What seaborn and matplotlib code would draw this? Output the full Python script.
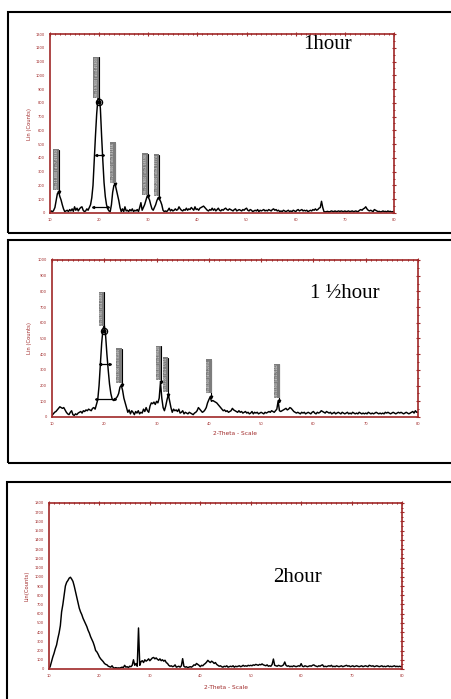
import numpy as np
import pandas as pd
import matplotlib
matplotlib.use("Agg")
import matplotlib.pyplot as plt
import matplotlib.transforms as mtransforms
from matplotlib.patches import Rectangle
from matplotlib.ticker import MultipleLocator
import seaborn as sns

sns.set_style("white")
plt.rcParams['font.family'] = ['DejaVu Sans']

# ---------------- data (2-theta scan, 0.25 deg step from 10 to 80) ----------------
cnt_1h = [
    10, 15, 8, 20, 40, 90, 140, 155, 120, 95, 60, 30, 10, 15, 20, 10, 25, 15, 30, 12,
    45, 20, 35, 15, 30, 40, 45, 20, 10, 15, 30, 20, 40, 60, 110, 200, 380, 560, 720, 830,
    855, 760, 560, 380, 220, 120, 60, 30, 15, 10, 60, 150, 200, 210, 170, 130, 90, 40, 10, 30,
    10, 45, 15, 20, 10, 25, 15, 30, 10, 20, 15, 25, 10, 40, 75, 20, 40, 60, 90, 120,
    115, 95, 60, 30, 20, 40, 60, 90, 110, 100, 85, 60, 20, 10, 15, 10, 20, 35, 15, 25,
    15, 20, 30, 20, 25, 45, 30, 20, 15, 25, 20, 35, 20, 30, 25, 40, 30, 20, 45, 25,
    30, 20, 35, 40, 45, 50, 40, 30, 20, 15, 25, 20, 35, 20, 30, 15, 25, 35, 20, 15,
    25, 20, 30, 35, 25, 20, 30, 25, 20, 15, 25, 30, 15, 20, 25, 20, 15, 25, 20, 30,
    35, 20, 15, 25, 20, 10, 15, 20, 15, 25, 10, 20, 15, 20, 25, 15, 20, 15, 25, 20,
    15, 25, 30, 20, 25, 15, 20, 10, 15, 10, 20, 15, 10, 15, 20, 10, 15, 10, 20, 15,
    10, 20, 25, 15, 20, 25, 15, 20, 15, 20, 10, 15, 20, 15, 25, 20, 30, 20, 25, 35,
    40, 85, 40, 10, 8, 10, 12, 8, 10, 15, 12, 10, 15, 10, 12, 15, 10, 15, 12, 10,
    15, 10, 12, 15, 10, 12, 15, 10, 12, 15, 10, 12, 20, 25, 20, 30, 35, 45, 30, 20,
    15, 20, 15, 10, 25, 20, 15, 10, 12, 8, 10, 15, 10, 12, 8, 15, 10, 12, 8, 10,
    10,
]
cnt_15h = [
    10, 20, 30, 35, 45, 55, 65, 60, 55, 60, 45, 30, 20, 15, 30, 40, 15, 10, 20, 15,
    25, 30, 35, 25, 40, 35, 45, 40, 50, 45, 40, 55, 60, 50, 80, 110, 200, 330, 470, 560,
    585, 520, 400, 300, 210, 150, 115, 105, 110, 120, 130, 150, 190, 202, 170, 120, 90, 60, 30, 45,
    20, 40, 30, 15, 35, 25, 40, 20, 30, 25, 50, 35, 60, 40, 30, 70, 90, 85, 95, 80,
    100, 90, 120, 223, 120, 60, 40, 70, 110, 143, 100, 60, 30, 50, 40, 45, 35, 50, 25, 30,
    40, 20, 30, 25, 20, 30, 25, 20, 15, 25, 30, 40, 60, 50, 40, 30, 35, 45, 60, 90,
    110, 128, 100, 105, 100, 95, 90, 80, 70, 60, 50, 40, 45, 35, 40, 30, 35, 40, 55, 45,
    40, 35, 30, 40, 30, 35, 25, 30, 35, 25, 30, 20, 25, 35, 20, 30, 25, 30, 20, 25,
    30, 25, 20, 30, 25, 30, 35, 30, 40, 35, 30, 40, 50, 102, 40, 35, 40, 45, 50, 55,
    45, 50, 60, 55, 45, 35, 30, 25, 30, 25, 20, 30, 25, 30, 20, 25, 30, 25, 20, 30,
    35, 25, 20, 30, 25, 30, 40, 35, 30, 25, 35, 30, 25, 30, 20, 25, 30, 20, 25, 30,
    25, 20, 30, 25, 20, 25, 30, 20, 25, 20, 30, 25, 20, 25, 20, 30, 25, 20, 25, 20,
    25, 20, 30, 25, 20, 25, 20, 25, 30, 25, 20, 25, 20, 25, 20, 30, 25, 30, 25, 20,
    25, 30, 25, 20, 25, 30, 25, 30, 25, 20, 25, 30, 25, 20, 25, 30, 35, 25, 40, 30,
    30,
]
cnt_2h = [
    0, 30, 80, 130, 170, 220, 260, 330, 390, 470, 620, 700, 800, 900, 940, 960, 985, 995, 975, 950,
    900, 840, 780, 720, 660, 620, 590, 550, 520, 490, 460, 420, 390, 350, 320, 290, 250, 200, 185, 160,
    130, 110, 95, 80, 60, 50, 45, 30, 25, 20, 35, 15, 10, 15, 10, 12, 10, 15, 20, 15,
    40, 20, 25, 15, 30, 25, 40, 100, 40, 60, 30, 445, 40, 80, 90, 70, 100, 85, 95, 110,
    90, 105, 120, 125, 110, 120, 105, 95, 110, 90, 100, 85, 95, 70, 60, 40, 30, 35, 25, 30,
    45, 20, 25, 30, 20, 35, 112, 30, 20, 25, 15, 20, 25, 20, 30, 45, 40, 60, 50, 40,
    25, 40, 35, 50, 60, 75, 94, 80, 70, 85, 75, 60, 70, 50, 40, 30, 35, 25, 20, 30,
    25, 35, 20, 25, 30, 25, 35, 20, 30, 25, 30, 35, 25, 30, 40, 30, 35, 30, 40, 35,
    40, 35, 45, 40, 50, 45, 40, 50, 45, 55, 45, 40, 35, 45, 30, 35, 30, 50, 108, 40,
    35, 30, 40, 35, 30, 35, 45, 76, 40, 30, 35, 25, 30, 25, 35, 30, 25, 30, 35, 30,
    58, 30, 25, 35, 30, 25, 30, 35, 30, 40, 45, 35, 30, 25, 35, 30, 40, 45, 25, 30,
    25, 30, 35, 30, 40, 25, 30, 25, 35, 30, 25, 30, 35, 25, 30, 35, 40, 30, 35, 25,
    30, 35, 25, 30, 35, 30, 25, 30, 35, 25, 30, 35, 30, 25, 40, 35, 30, 35, 25, 30,
    35, 30, 25, 30, 35, 25, 30, 25, 30, 35, 25, 30, 25, 30, 35, 25, 30, 25, 30, 25,
    30,
]

titles = ["1hour", "1 \u00bdhour", "2hour"]
ymax = [1300, 1000, 1800]
ylabels = ["Lin (Counts)", "Lin (Counts)", "Lin(Counts)"]
xlabels = [None, "2-Theta - Scale", "2-Theta - Scale"]
x_ticks = [10, 20, 30, 40, 50, 60, 70, 80]

# peak annotations (position, marker height, label top, label text)
pk_pos = [[11.8, 19.9, 23.3, 29.9, 32.2],
          [19.95, 23.3, 30.85, 32.2, 40.5, 53.5],
          []]
pk_hgt = [[155, 806, 210, 120, 110],
          [549, 202, 223, 143, 128, 102],
          []]
pk_top = [[460, 1130, 510, 430, 420],
          [794, 432, 451, 377, 362, 336],
          []]
pk_txt = [["2\u03b8=11.800 | d=7.49380", "2\u03b8=19.900 | d=4.45803",
           "2\u03b8=23.300 | d=3.81466", "2\u03b8=29.900 | d=2.98590",
           "2\u03b8=32.200 | d=2.77774"],
          ["2\u03b8=19.950 | d=4.44691", "2\u03b8=23.300 | d=3.81466",
           "2\u03b8=30.850 | d=2.89618", "2\u03b8=32.200 | d=2.77774",
           "2\u03b8=40.500 | d=2.22551", "2\u03b8=53.500 | d=1.71142"],
          []]
# FWHM construction of the main peak: (x_left, x_right, y)
fwhm_half = [(19.3, 20.8, 420), (19.2, 21.0, 336), None]
fwhm_base = [(18.7, 21.9, 40), (18.5, 22.1, 115), None]

# ---------------- layout ----------------
W, H = 452, 699
fig = plt.figure(figsize=(W / 100, H / 100), dpi=100)
fig.patch.set_facecolor("white")

ax_px = [(50, 34, 394, 213), (52, 260, 418, 417), (49, 503, 402, 669)]
box_px = [(8, 12, 233), (8, 240, 463), (7, 482, 710)]
title_px = [(303, 49), (310, 298), (273, 582)]
ylab_x = [-0.052, -0.054, -0.054]
xlab_y = [None, -0.089, -0.096]

RED = "#a02828"

for (bx, by0, by1) in box_px:
    fig.add_artist(Rectangle((bx / W, 1 - by1 / H), 1.2, (by1 - by0) / H,
                             transform=fig.transFigure, fill=False,
                             edgecolor="black", linewidth=1.5))

series = [cnt_1h, cnt_15h, cnt_2h]
for i in range(3):
    l, t, r, b = ax_px[i]
    ax = fig.add_axes([l / W, 1 - b / H, (r - l) / W, (b - t) / H])
    y = series[i]
    x = 10 + 0.25 * np.arange(len(y))
    df = pd.DataFrame({"two_theta": x, "counts": y})
    sns.lineplot(data=df, x="two_theta", y="counts", ax=ax, color="black",
                 linewidth=1.05, estimator=None, sort=False)
    ax.set_xlim(10, 80)
    ax.set_ylim(0, ymax[i])
    ax.set_xticks(x_ticks)
    ax.set_xticklabels([str(v) for v in x_ticks])
    ax.xaxis.set_minor_locator(MultipleLocator(1))
    ax.yaxis.set_major_locator(MultipleLocator(100))
    ax.yaxis.set_minor_locator(MultipleLocator(50))
    for sp in ax.spines.values():
        sp.set_color(RED)
        sp.set_linewidth(1.2)
        sp.set_visible(True)
    ax.tick_params(axis="both", which="major", direction="inout", length=3.5,
                   width=0.8, color=RED, labelcolor=RED, labelsize=2.6, pad=2,
                   top=True, right=True)
    ax.tick_params(axis="both", which="minor", direction="inout", length=2,
                   width=0.7, color=RED, top=True, right=True)
    ax.set_ylabel(ylabels[i], color=RED, fontsize=3.8)
    ax.yaxis.set_label_coords(ylab_x[i], 0.5)
    if xlabels[i]:
        ax.set_xlabel(xlabels[i], color=RED, fontsize=4.2)
        ax.xaxis.set_label_coords(0.5, xlab_y[i])
    else:
        ax.set_xlabel("")

    # peak labels
    fs = 2.3 if i == 0 else 1.95
    off = mtransforms.offset_copy(ax.transData, fig=fig, x=-0.4, y=0, units="points")
    for k, (px, py, top, txt) in enumerate(zip(pk_pos[i], pk_hgt[i], pk_top[i], pk_txt[i])):
        ax.plot([px, px], [py, top], color="black", linewidth=0.8)
        ax.text(px, top, txt, rotation=90, ha="right", va="top", fontsize=fs,
                color="#eeeeee", transform=off,
                bbox=dict(boxstyle="square,pad=0.25", fc="#7d7d7d", ec="none"))
        if k == (1 if i == 0 else 0):
            ax.plot([px], [py], marker="o", ms=4.5, mfc="none", mec="black", mew=0.9)
            ax.plot([px], [py], marker="o", ms=2.0, color="black")
        else:
            ax.plot([px], [py], marker="v", ms=1.8, color="black")
    if fwhm_half[i]:
        for (xa, xb, yy) in (fwhm_half[i], fwhm_base[i]):
            ax.plot([xa, xb], [yy, yy], color="black", linewidth=0.9)
            ax.plot([xa], [yy], marker="<", ms=1.5, color="black")
            ax.plot([xb], [yy], marker=">", ms=1.5, color="black")

    tx, ty = title_px[i]
    fig.text(tx / W, 1 - ty / H, titles[i], family=["Liberation Serif", "DejaVu Serif"],
             fontsize=15, va="baseline", ha="left", color="black")

fig.savefig("out.png", dpi=100, facecolor="white")
